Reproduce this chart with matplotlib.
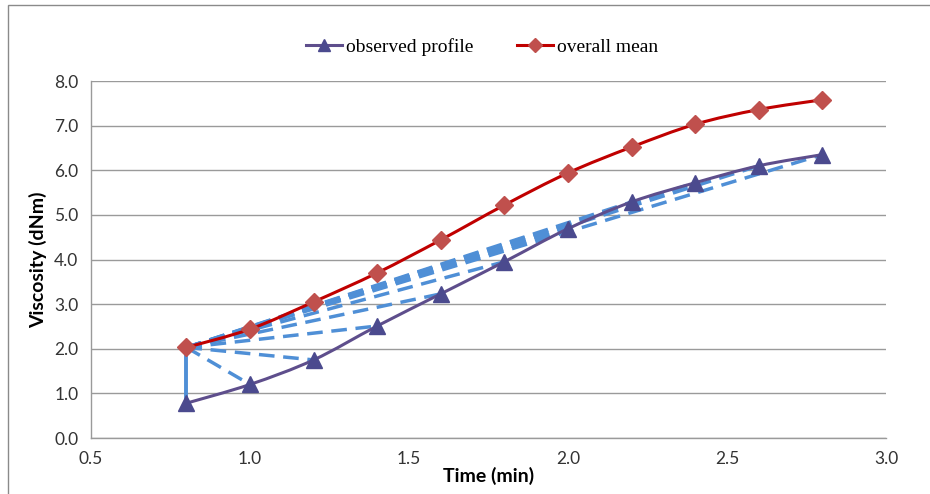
import matplotlib
matplotlib.use("Agg")
import matplotlib.pyplot as plt
from matplotlib.path import Path
from matplotlib.patches import PathPatch, Rectangle
from matplotlib.lines import Line2D
import numpy as np

time_min = [0.8, 1.0, 1.2, 1.4, 1.6, 1.8, 2.0, 2.2, 2.4, 2.6, 2.8]
observed = [0.78, 1.20, 1.75, 2.51, 3.23, 3.95, 4.69, 5.29, 5.72, 6.10, 6.35]
overall_mean = [2.03, 2.44, 3.05, 3.70, 4.44, 5.22, 5.94, 6.52, 7.03, 7.36, 7.58]
x_ticks = [0.5, 1.0, 1.5, 2.0, 2.5, 3.0]
y_ticks = [0.0, 1.0, 2.0, 3.0, 4.0, 5.0, 6.0, 7.0, 8.0]

TICK_FONT = "Lato"

def smooth_path(xs, ys):
    pts = np.column_stack([xs, ys])
    verts = [pts[0]]
    codes = [Path.MOVETO]
    n = len(pts)
    for i in range(n - 1):
        p0 = pts[i - 1] if i > 0 else pts[i]
        p1 = pts[i]
        p2 = pts[i + 1]
        p3 = pts[i + 2] if i + 2 < n else pts[i + 1]
        c1 = p1 + (p2 - p0) / 6.0
        c2 = p2 - (p3 - p1) / 6.0
        verts += [c1, c2, p2]
        codes += [Path.CURVE4] * 3
    return Path(verts, codes)

fig = plt.figure(figsize=(9.30, 4.94), dpi=100)
fig.patches.append(Rectangle((8 / 930, -0.1), 1.2, 1 - 5 / 494 + 0.1,
                             transform=fig.transFigure, fill=False,
                             edgecolor="#8a8a8a", linewidth=1.0))
ax = fig.add_axes([91 / 930, 1 - 438 / 494, (886 - 91) / 930, (438 - 81) / 494])

ax.set_xlim(0.5, 3.0)
ax.set_ylim(0.0, 8.0)
ax.set_xticks(x_ticks)
ax.set_yticks(y_ticks)
ax.set_xticklabels([f"{v:.1f}" for v in x_ticks], fontfamily=TICK_FONT, fontsize=12.5, color="#333333")
ax.set_yticklabels([f"{v:.1f}" for v in y_ticks], fontfamily=TICK_FONT, fontsize=12.5, color="#333333")
ax.tick_params(length=0, pad=9)
ax.yaxis.grid(True, color="#9a9a9a", linewidth=1.0)
ax.set_axisbelow(True)
for s in ["top", "right"]:
    ax.spines[s].set_visible(False)
for s in ["left", "bottom"]:
    ax.spines[s].set_color("#9a9a9a")
    ax.spines[s].set_linewidth(1.0)

ax.set_xlabel("Time (min)", fontfamily=TICK_FONT, fontweight="bold", fontsize=14, labelpad=0)
ax.set_ylabel("Viscosity (dNm)", fontfamily=TICK_FONT, fontweight="bold", fontsize=14, labelpad=5)

blue = "#4F8FD6"
# dashed fan from the mean start point to every observed point
for xi, yi in zip(time_min[1:], observed[1:]):
    ax.plot([time_min[0], xi], [overall_mean[0], yi], linestyle=(0, (4.5, 2.5)),
            color=blue, linewidth=2.5, zorder=3)
# vertical connector
ax.plot([time_min[0], time_min[0]], [observed[0], overall_mean[0]], color=blue,
        linewidth=2.8, zorder=3)

obs_color = "#5E4E8C"
obs_marker = "#4B4A8E"
mean_color = "#C00000"
mean_marker = "#C0504D"

ax.add_patch(PathPatch(smooth_path(time_min, observed), fill=False,
                       edgecolor=obs_color, linewidth=2.2, zorder=4))
ax.plot(time_min, observed, linestyle="none", marker="^", markersize=12,
        color=obs_marker, zorder=5)
ax.add_patch(PathPatch(smooth_path(time_min, overall_mean), fill=False,
                       edgecolor=mean_color, linewidth=2.2, zorder=4))
ax.plot(time_min, overall_mean, linestyle="none", marker="D", markersize=9.5,
        color=mean_marker, zorder=5)

handles = [
    Line2D([0], [0], color=obs_color, linewidth=2.2, marker="^", markersize=9,
           markerfacecolor=obs_marker, markeredgecolor=obs_marker),
    Line2D([0], [0], color=mean_color, linewidth=2.2, marker="D", markersize=7,
           markerfacecolor=mean_marker, markeredgecolor=mean_marker),
]
fig.legend(handles, ["observed profile", "overall mean"], loc="center",
           bbox_to_anchor=(482 / 930, 1 - 47 / 494), ncol=2, frameon=False,
           prop={"family": "Liberation Serif", "size": 14}, handlelength=1.9,
           handletextpad=0.2, columnspacing=2.2)

fig.savefig("out.png", dpi=100, facecolor="white")
